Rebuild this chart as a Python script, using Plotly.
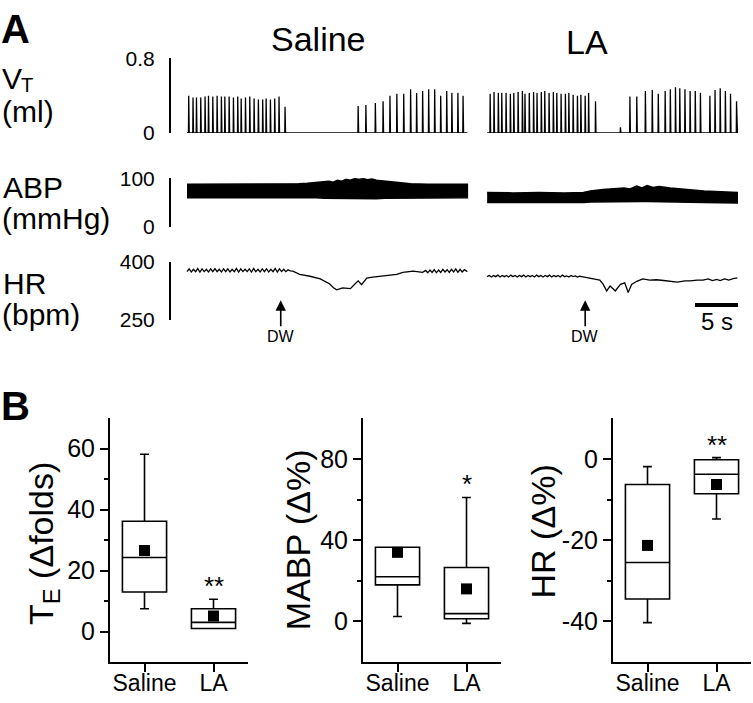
import plotly.graph_objects as go

W, H = 753, 703
FONT = "Arial, Liberation Sans, sans-serif"

def px_x(p):
    return p / W

def px_y(p):
    return 1 - p / H

# ---------------- Panel A data ----------------
condition_titles = ["Saline", "LA"]

# Tidal volume: breath times (s) and peak volumes (ml)
sal_breath_t = [0.2, 0.7, 1.1, 1.6, 2.1, 2.5, 3.0, 3.5, 4.0, 4.4, 4.9, 5.4, 5.9, 6.3, 6.8, 7.3,
                7.8, 8.3, 8.8, 9.2, 9.7, 10.2, 10.7, 11.4,
                19.9, 20.8, 21.9, 22.8, 23.6, 24.4, 25.2, 26.0, 26.7, 27.4, 28.1, 28.8, 29.5,
                30.2, 30.8, 31.5, 32.1]
sal_breath_v = [0.40, 0.38, 0.38, 0.38, 0.39, 0.40, 0.39, 0.40, 0.39, 0.39, 0.39, 0.38, 0.39, 0.37,
                0.38, 0.39, 0.37, 0.36, 0.36, 0.37, 0.36, 0.37, 0.39, 0.28,
                0.29, 0.30, 0.32, 0.34, 0.40, 0.42, 0.42, 0.47, 0.43, 0.45, 0.47, 0.47, 0.40,
                0.45, 0.43, 0.43, 0.40]
sal_duration = 32.6

la_breath_t = [0.35, 0.8, 1.3, 1.7, 2.2, 2.7, 3.1, 3.6, 4.1, 4.4, 4.9, 5.4, 5.8, 6.3, 6.7, 7.2,
               7.7, 8.1, 8.6, 9.1, 9.5, 10.0, 10.5, 10.9, 11.4, 11.8, 12.6, 15.5,
               16.6, 17.4, 18.4, 19.2, 19.9, 20.7, 21.3, 21.9, 22.4, 23.0, 23.6, 24.2, 24.8,
               25.9, 26.5, 27.1, 27.7, 28.3, 29.0]
la_breath_v = [0.42, 0.44, 0.43, 0.43, 0.43, 0.42, 0.43, 0.44, 0.45, 0.42, 0.43, 0.44, 0.43, 0.44,
               0.45, 0.43, 0.44, 0.43, 0.42, 0.42, 0.43, 0.41, 0.40, 0.41, 0.40, 0.43, 0.34, 0.06,
               0.39, 0.39, 0.45, 0.46, 0.42, 0.45, 0.47, 0.49, 0.48, 0.47, 0.45, 0.45, 0.43,
               0.40, 0.46, 0.48, 0.45, 0.42, 0.34]
la_duration = 29.1
la_offset = 34.9  # LA recording placed to the right of the saline one (s)

# Arterial blood pressure envelopes (mmHg)
sal_abp_t = [0, 2, 4, 6, 8, 10, 12, 13, 14, 15, 16, 16.5, 17, 17.5, 18, 18.5, 19, 19.5, 20,
             20.5, 21, 21.5, 22, 23, 24, 25, 26, 28, 30, 32.6]
sal_abp_sys = [88, 88, 89, 88, 88, 88, 89, 89, 90, 91, 92, 94, 92, 96, 94, 98, 96, 100, 98,
               100, 97, 99, 96, 94, 92, 91, 89, 88, 88, 88]
sal_abp_dia = [60, 60, 60, 60, 60, 60, 60, 60, 60, 60, 59, 59, 59, 58, 58, 58, 58, 58, 58,
               58, 58, 58, 58, 59, 59, 59, 60, 60, 60, 60]

la_abp_t = [0, 3, 6, 9, 11.2, 12.0, 13.5, 15.0, 15.9, 16.6, 17.4, 18.0, 18.6, 19.3, 20.0,
            21.3, 23.2, 25.2, 29.1]
la_abp_sys = [71, 70, 71, 70, 71, 74, 77, 78, 80, 78, 84, 80, 85, 81, 83, 80, 77, 74, 71]
la_abp_dia = [50, 50, 49, 50, 50, 51, 52, 52, 52, 52, 52, 52, 52, 52, 52, 52, 51, 50, 49]

# Heart rate (bpm)
sal_hr_t = [0.0, 0.25, 0.5, 0.75, 1.0, 1.25, 1.5, 1.75, 2.0, 2.25, 2.5, 2.75, 3.0, 3.25, 3.5, 3.75,
            4.0, 4.25, 4.5, 4.75, 5.0, 5.25, 5.5, 5.75, 6.0, 6.25, 6.5, 6.75, 7.0, 7.25, 7.5, 7.75,
            8.0, 8.25, 8.5, 8.75, 9.0, 9.25, 9.5, 9.75, 10.0, 10.25, 10.5, 10.75, 11.0, 11.25,
            11.5, 11.75, 12.0,
            12.3, 13.1, 14.3, 15.5, 16.6, 17.0, 17.4, 18.1, 19.0, 19.3, 19.9, 20.3, 20.9, 21.6,
            22.4, 23.3, 24.4, 25.1, 26.3, 27.4,
            27.75, 28.0, 28.25, 28.5, 28.75, 29.0, 29.25, 29.5, 29.75, 30.0, 30.25, 30.5, 30.75,
            31.0, 31.25, 31.5, 31.75, 32.0, 32.25, 32.6]
sal_hr_v = [374, 381, 373, 380, 374, 382, 373, 381, 374, 380,
            373, 381, 374, 382, 374, 380, 373, 381, 374, 381,
            373, 380, 374, 382, 373, 381, 374, 380, 374, 381,
            373, 382, 374, 380, 373, 381, 374, 381, 373, 380,
            374, 382, 373, 381, 374, 380, 374, 379, 376,
            375, 367, 362, 355, 342, 333, 327, 332, 330, 337, 350, 340, 357, 360,
            362, 365, 367, 372, 375, 372,
            377, 371, 378, 372, 379, 371, 378, 372, 380, 373, 379, 372, 380,
            373, 381, 372, 380, 373, 379, 374]

la_hr_t = [0.0, 0.25, 0.5, 0.75, 1.0, 1.25, 1.5, 1.75, 2.0, 2.25, 2.5, 2.75, 3.0, 3.25, 3.5, 3.75,
           4.0, 4.25, 4.5, 4.75, 5.0, 5.25, 5.5, 5.75, 6.0, 6.25, 6.5, 6.75, 7.0, 7.25, 7.5, 7.75,
           8.0, 8.25, 8.5, 8.75, 9.0, 9.25, 9.5, 9.75, 10.0, 10.25, 10.5, 10.75, 11.0, 11.25,
           11.6, 12.0, 12.6, 13.1, 13.5, 13.9, 14.3, 14.9, 15.5, 16.0, 16.4, 16.8, 17.4, 18.1,
           18.9, 19.7, 20.5, 21.3, 22.1, 23.0, 23.6, 24.4, 25.1, 25.7, 26.2, 26.7, 27.1, 27.6,
           28.1, 28.6, 29.1]
la_hr_v = [361, 364, 360, 364, 361, 365, 360, 364, 361, 364,
           360, 365, 361, 364, 360, 364, 361, 365, 360, 364,
           361, 364, 360, 365, 361, 364, 360, 364, 361, 365,
           360, 364, 361, 364, 360, 365, 361, 363, 360, 364,
           361, 363, 360, 362, 361, 360,
           359, 357, 355, 352, 341, 324, 337, 324, 341, 345, 320, 341, 349, 355,
           352, 353, 351, 349, 347, 350, 350, 352, 352, 355, 351, 354, 351, 355,
           352, 356, 358]

dw_time_saline = 10.9
dw_time_la = 11.4
scale_bar_s = 5

# ---------------- Panel B data ----------------
categories = ["Saline", "LA"]

te_q1 = [13.0, 1.0]
te_median = [24.3, 3.0]
te_q3 = [36.2, 7.5]
te_low = [7.5, 1.0]
te_high = [58.2, 10.6]
te_mean = [26.6, 5.1]
te_ticks = [0, 20, 40, 60]
te_ticklabels = ["0", "20", "40", "60"]

mabp_q1 = [18.0, 1.3]
mabp_median = [22.0, 3.8]
mabp_q3 = [36.5, 26.5]
mabp_low = [2.4, -1.0]
mabp_high = [36.5, 61.0]
mabp_mean = [34.0, 16.0]
mabp_ticks = [0, 40, 80]
mabp_ticklabels = ["0", "40", "80"]

hr_q1 = [-34.5, -8.6]
hr_median = [-25.5, -3.8]
hr_q3 = [-6.3, -0.2]
hr_low = [-40.3, -14.8]
hr_high = [-1.9, 0.3]
hr_mean = [-21.3, -6.3]
hr_ticks = [-40, -20, 0]
hr_ticklabels = ["-40", "-20", "0"]

sig_te = ["", "**"]
sig_mabp = ["", "*"]
sig_hr = ["", "**"]

# ---------------- Build figure ----------------
fig = go.Figure()


def spikes(times, vols, duration, offset):
    xs, ys = [offset], [0]
    for t, v in zip(times, vols):
        xs += [offset + t - 0.03, offset + t, offset + t + 0.06]
        ys += [0, v, 0]
    xs.append(offset + duration)
    ys.append(0)
    return xs, ys


for bt, bv, dur, off in [(sal_breath_t, sal_breath_v, sal_duration, 0.0),
                         (la_breath_t, la_breath_v, la_duration, la_offset)]:
    xs, ys = spikes(bt, bv, dur, off)
    fig.add_trace(go.Scatter(x=xs, y=ys, mode="lines", line=dict(color="black", width=1.3),
                             xaxis="x", yaxis="y", hoverinfo="skip"))

for at, asys, adia, off in [(sal_abp_t, sal_abp_sys, sal_abp_dia, 0.0),
                            (la_abp_t, la_abp_sys, la_abp_dia, la_offset)]:
    xs = [off + t for t in at] + [off + t for t in at[::-1]]
    ys = list(asys) + list(adia[::-1])
    fig.add_trace(go.Scatter(x=xs, y=ys, mode="lines", fill="toself", fillcolor="black",
                             line=dict(color="black", width=1.5), xaxis="x2", yaxis="y2",
                             hoverinfo="skip"))

for ht, hv, off in [(sal_hr_t, sal_hr_v, 0.0), (la_hr_t, la_hr_v, la_offset)]:
    fig.add_trace(go.Scatter(x=[off + t for t in ht], y=hv, mode="lines",
                             line=dict(color="black", width=1.3), xaxis="x3", yaxis="y3",
                             hoverinfo="skip"))

box_sets = [
    (te_q1, te_median, te_q3, te_low, te_high, te_mean, "x4", "y4"),
    (mabp_q1, mabp_median, mabp_q3, mabp_low, mabp_high, mabp_mean, "x5", "y5"),
    (hr_q1, hr_median, hr_q3, hr_low, hr_high, hr_mean, "x6", "y6"),
]
for q1, med, q3, lo, hi, mean, xa, ya in box_sets:
    fig.add_trace(go.Box(x=[0, 1], q1=q1, median=med, q3=q3, lowerfence=lo, upperfence=hi,
                         width=0.64, whiskerwidth=0.2, fillcolor="white",
                         line=dict(color="black", width=1.6), boxpoints=False,
                         xaxis=xa, yaxis=ya, hoverinfo="skip"))
    fig.add_trace(go.Scatter(x=[0, 1], y=mean, mode="markers",
                             marker=dict(symbol="square", size=11, color="black"),
                             xaxis=xa, yaxis=ya, hoverinfo="skip"))

# ---------------- Axes ----------------
tx_range = [-1.86, 64.07]
top_x = dict(domain=[px_x(171), px_x(738)], range=tx_range, visible=False)

def top_y(dom, rng, ticktext, anchor):
    return dict(domain=dom, range=rng, anchor=anchor, showline=True, linewidth=2,
                linecolor="black", ticks="inside", ticklen=5, tickwidth=2, tickcolor="black",
                tickvals=rng, ticktext=ticktext, showgrid=False, zeroline=False,
                tickfont=dict(family=FONT, size=21, color="black"), ticklabelstandoff=10)

def box_x(dom, anchor):
    return dict(domain=dom, range=[-0.5, 1.5], anchor=anchor, showline=True, linewidth=2,
                linecolor="black", ticks="outside", ticklen=8, tickwidth=2, tickcolor="black",
                tickvals=[0, 1], ticktext=categories, showgrid=False, zeroline=False,
                tickfont=dict(family=FONT, size=23, color="black"), ticklabelstandoff=-9)

def box_y(rng, major, labels, minor, anchor):
    return dict(domain=[px_y(672), px_y(420)], range=rng, anchor=anchor, showline=True,
                linewidth=2, linecolor="black", ticks="outside", ticklen=8, tickwidth=2,
                tickcolor="black", tickvals=major, ticktext=labels, showgrid=False,
                zeroline=False, tickfont=dict(family=FONT, size=25, color="black"),
                minor=dict(tickvals=minor, ticks="outside", ticklen=4, tickwidth=2,
                           tickcolor="black", showgrid=False))

fig.update_layout(
    width=W, height=H, margin=dict(l=0, r=0, t=0, b=0),
    paper_bgcolor="white", plot_bgcolor="white", showlegend=False,
    font=dict(family=FONT, color="black"),
    xaxis=dict(top_x, anchor="y"),
    xaxis2=dict(top_x, anchor="y2"),
    xaxis3=dict(top_x, anchor="y3"),
    yaxis=top_y([px_y(125), px_y(48)], [0, 0.8], ["0", "0.8"], "x"),
    yaxis2=top_y([px_y(222), px_y(172)], [0, 100], ["0", "100"], "x2"),
    yaxis3=top_y([px_y(318), px_y(258)], [250, 400], ["250", "400"], "x3"),
    xaxis4=box_x([px_x(110), px_x(248)], "y4"),
    xaxis5=box_x([px_x(363), px_x(501)], "y5"),
    xaxis6=box_x([px_x(613), px_x(751)], "y6"),
    yaxis4=box_y([-10, 70], te_ticks, te_ticklabels, [10, 30, 50], "x4"),
    yaxis5=box_y([-20, 100], mabp_ticks, mabp_ticklabels, [20, 60], "x5"),
    yaxis6=box_y([-50, 10], hr_ticks, hr_ticklabels, [-30, -10], "x6"),
)

ann = []

def txt(text, x, y, size, xanchor="left", bold=False, angle=0):
    ann.append(dict(text=("<b>%s</b>" % text) if bold else text, x=px_x(x), y=px_y(y),
                    xref="paper", yref="paper", xanchor=xanchor, yanchor="middle",
                    showarrow=False, textangle=angle,
                    font=dict(family=FONT, size=size, color="black")))

txt("A", -1, 18, 40, bold=True)
txt("B", -1, 407, 40, bold=True)
txt(condition_titles[0], 318, 28, 34, xanchor="center")
txt(condition_titles[1], 587, 31, 34, xanchor="center")
txt("V", 0, 69, 30)
txt("T", 19, 75, 20)
txt("(ml)", 0, 103, 30)
txt("ABP", 1, 181, 30)
txt("(mmHg)", 0, 214, 30)
txt("HR", 1, 281, 30)
txt("(bpm)", 0, 313, 30)

txt("T<sub>E</sub> (Δfolds)", 43, 550, 34, xanchor="center", angle=-90)
txt("MABP (Δ%)", 298, 546, 34, xanchor="center", angle=-90)
txt("HR (Δ%)", 543, 537, 34, xanchor="center", angle=-90)

# DW arrows
for xt in [dw_time_saline, la_offset + dw_time_la]:
    ann.append(dict(text="DW", x=xt, y=px_y(298), xref="x3", yref="paper", showarrow=True,
                    ax=0, ay=36, arrowhead=2, arrowsize=1.3, arrowwidth=1.6, arrowcolor="black",
                    font=dict(family=FONT, size=16, color="black")))

# scale bar label
ann.append(dict(text="%d s" % scale_bar_s, x=tx_range[1] - scale_bar_s / 2, y=px_y(320),
                xref="x3", yref="paper", showarrow=False, yanchor="middle",
                font=dict(family=FONT, size=24, color="black")))

# significance markers
for sig, highs, xa, ya in [(sig_te, te_high, "x4", "y4"), (sig_mabp, mabp_high, "x5", "y5"),
                           (sig_hr, hr_high, "x6", "y6")]:
    for i, s in enumerate(sig):
        if s:
            ann.append(dict(text=s, x=i, y=highs[i], xref=xa, yref=ya, showarrow=False,
                            yanchor="bottom", yshift=-4,
                            font=dict(family=FONT, size=26, color="black")))

fig.update_layout(annotations=ann)

fig.add_shape(type="line", xref="x3", yref="paper",
              x0=tx_range[1] - scale_bar_s, x1=tx_range[1], y0=px_y(303), y1=px_y(303),
              line=dict(color="black", width=4))

fig.write_html("out.html", config={"displayModeBar": False},
               post_script="document.body.style.margin='0';document.body.style.overflow='hidden';")
